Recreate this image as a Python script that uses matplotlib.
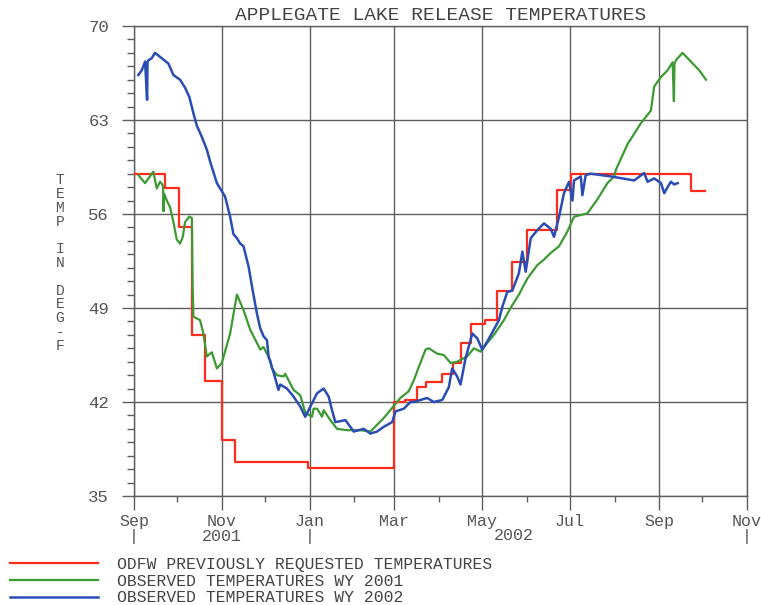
import numpy as np
import matplotlib
matplotlib.use("Agg")
import matplotlib.pyplot as plt
import matplotlib.dates as mdates
from matplotlib.ticker import MultipleLocator

# ---- data (days after 1 September, temperatures in deg F) ----
season_start = "2001-09-01"

red_days = [1, 21.6, 31, 40, 49, 61, 70, 121, 181, 188, 197, 203, 214, 222, 227,
            234, 244, 252, 263, 273, 294, 304, 387, 397]
red_temps = [59.0, 57.9, 55.0, 47.0, 43.6, 39.2, 37.5, 37.1, 42.0, 42.15, 43.1, 43.5,
             44.1, 44.9, 46.4, 47.8, 48.1, 50.3, 52.4, 54.8, 57.8, 59.0, 57.7, 57.7]

green_days = [3.0, 7.7, 13.4, 15.8, 18.1, 19.7, 20.2, 20.5, 21.0, 22.8, 25.1, 27.4,
              29.7, 32.0, 33.9, 35.5, 38.5, 40.2, 40.7, 41.3, 45.9, 48.2, 50.6, 54.1,
              57.6, 61.0, 66.8, 71.5, 76.1, 80.7, 85.4, 87.7, 90.0, 94.7, 95.9, 99.3,
              103.9, 105.1, 110.9, 115.6, 119.0, 123.7, 124.8, 127.2, 130.7, 131.8,
              136.4, 141.1, 148.1, 157.3, 164.3, 168.9, 173.5, 178.2, 185.1, 190.9,
              194.4, 197.9, 202.6, 204.9, 210.7, 215.3, 220.0, 224.6, 231.6, 236.2,
              240.8, 245.5, 250.1, 257.1, 261.7, 267.5, 273.4, 280.3, 284.9, 289.6,
              295.4, 301.2, 305.8, 315.1, 322.1, 329.0, 333.7, 334.9, 343.0, 352.2,
              359.2, 361.5, 366.2, 370.8, 374.3, 375.2, 375.6, 376.6, 381.2, 387.0,
              392.8, 397.5]
green_temps = [58.9, 58.3, 59.15, 57.9, 58.4, 58.2, 58.0, 56.2, 57.5, 57.0, 56.5, 55.4,
               54.1, 53.8, 54.3, 55.4, 55.8, 55.7, 50.8, 48.35, 48.1, 47.1, 45.4, 45.7,
               44.5, 44.9, 47.1, 50.0, 48.85, 47.4, 46.4, 45.9, 46.1, 45.1, 44.5, 44.0,
               43.9, 44.1, 42.9, 42.5, 41.2, 40.9, 41.5, 41.5, 40.9, 41.4,
               40.65, 40.0, 39.9, 39.9, 39.8, 40.3, 40.8, 41.4, 42.3, 42.8,
               43.6, 44.6, 45.9, 46.0, 45.6, 45.5, 44.9, 45.0, 45.4, 46.0,
               45.75, 46.4, 47.0, 48.1, 49.0, 50.0, 51.2, 52.2, 52.6, 53.1,
               53.6, 54.7, 55.8, 56.05, 57.1, 58.3, 58.8, 59.3, 61.2, 62.75,
               63.7, 65.5, 66.2, 66.7, 67.3, 64.4, 67.2, 67.45, 68.0, 67.35,
               66.7, 66.0]

blue_days = [3.0, 5.4, 7.7, 9.1, 9.4, 10.0, 12.3, 14.6, 19.3, 23.9, 27.4, 32.0, 35.5,
             38.5, 41.3, 43.6, 47.1, 50.6, 52.9, 57.6, 63.3, 66.8, 69.1, 71.5, 73.8,
             76.1, 78.4, 79.6, 83.0, 85.4, 87.7, 90.0, 92.4, 93.5, 97.0, 100.4, 101.6,
             106.3, 110.9, 115.6, 119.0, 122.5, 127.2, 131.8, 135.3, 137.6, 139.9,
             146.9, 152.7, 159.6, 164.3, 168.9, 173.5, 179.4, 181.7, 187.5, 192.1,
             194.4, 203.7, 208.3, 214.2, 218.8, 221.1, 224.6, 226.9, 230.4, 235.1,
             238.5, 242.0, 245.5, 250.1, 253.6, 256.0, 259.4, 262.9, 267.5, 269.9,
             272.2, 275.7, 280.3, 284.9, 289.6, 291.9, 295.4, 298.8, 302.3, 304.7,
             305.8, 310.5, 311.6, 313.9, 317.4, 331.3, 347.6, 354.5, 356.9, 361.5,
             366.2, 368.5, 370.8, 373.1, 375.4, 377.8]
blue_temps = [66.35, 66.7, 67.35, 64.5, 67.3, 67.45, 67.6, 68.0, 67.6, 67.2, 66.35, 66.0,
              65.4, 64.7, 63.5, 62.6, 61.75, 60.8, 59.9, 58.3, 57.3, 55.8, 54.5, 54.2,
              53.8, 53.6, 52.6, 52.1, 50.0, 48.6, 47.5, 46.9, 46.6, 45.4, 44.2, 42.9,
              43.3, 43.0, 42.4, 41.65, 40.9, 41.65, 42.65, 43.0, 42.4, 41.4, 40.5,
              40.65, 39.8, 40.0, 39.65, 39.8, 40.15, 40.5, 41.3, 41.5, 42.0,
              42.0, 42.3, 42.0, 42.15, 43.1, 44.5, 43.9, 43.3, 45.25, 47.1,
              46.75, 45.9, 46.5, 47.4, 48.1, 49.1, 50.2, 50.3, 51.6, 53.2,
              51.7, 54.2, 54.8, 55.3, 54.9, 54.3, 55.8, 57.55, 58.4, 57.0,
              58.5, 58.8, 57.4, 58.9, 59.0, 58.8, 58.5, 59.05, 58.4, 58.65,
              58.3, 57.55, 58.0, 58.4, 58.2, 58.3]

tick_dates = ["2001-09-01", "2001-11-01", "2002-01-01", "2002-03-01",
              "2002-05-01", "2002-07-01", "2002-09-01", "2002-11-01"]
tick_labels = ["Sep\n|", "Nov\n2001", "Jan\n|", "Mar", "May", "Jul", "Sep", "Nov\n|"]
minor_dates = ["2001-10-01", "2001-12-01", "2002-02-01", "2002-04-01",
               "2002-06-01", "2002-08-01", "2002-10-01"]
year_label = "2002"
year_label_date = "2002-05-23"

y_ticks = [35, 42, 49, 56, 63, 70]

legend_labels = ["ODFW PREVIOUSLY REQUESTED TEMPERATURES",
                 "OBSERVED TEMPERATURES WY 2001",
                 "OBSERVED TEMPERATURES WY 2002"]
title = "APPLEGATE LAKE RELEASE TEMPERATURES"
ylabel = "T\nE\nM\nP\n\nI\nN\n\nD\nE\nG\n-\nF"

# ---- drawing ----
plt.rcParams["font.family"] = ["Liberation Mono", "DejaVu Sans Mono"]

RED, GREEN, BLUE = "#ff2b1c", "#3d9a33", "#2a4db4"
GRID = "#5e5e5e"
TXT = "#555555"

def to_num(day_list):
    return mdates.datestr2num(season_start) + np.asarray(day_list, dtype=float)

fig = plt.figure(figsize=(7.61, 6.05), dpi=100)
ax = fig.add_axes([134 / 761, 109 / 605, 613 / 761, 470 / 605])

l_red, = ax.plot(to_num(red_days), red_temps, drawstyle="steps-post",
                 color=RED, lw=1.6, zorder=3)
l_green, = ax.plot(to_num(green_days), green_temps, color=GREEN, lw=1.6, zorder=4)
l_blue, = ax.plot(to_num(blue_days), blue_temps, color=BLUE, lw=1.8, zorder=5)

ax.set_xlim(mdates.datestr2num(tick_dates[0]), mdates.datestr2num(tick_dates[-1]))
ax.set_ylim(35, 70)

ax.set_xticks([mdates.datestr2num(d) for d in tick_dates])
ax.set_xticklabels(tick_labels, fontsize=12, color=TXT, linespacing=1.0)
ax.set_xticks([mdates.datestr2num(d) for d in minor_dates], minor=True)
ax.set_yticks(y_ticks)
ax.set_yticklabels([str(v) for v in y_ticks], fontsize=12.5, color=TXT)
ax.yaxis.set_minor_locator(MultipleLocator(1))

ax.tick_params(axis="x", which="major", length=10, width=1, color=GRID, pad=3)
ax.tick_params(axis="x", which="minor", length=4, width=1, color=GRID)
ax.tick_params(axis="y", which="major", length=9, width=1, color=GRID, pad=9)
ax.tick_params(axis="y", which="minor", length=5, width=1, color=GRID)

ax.grid(True, which="major", color=GRID, lw=1.0)
for s in ax.spines.values():
    s.set_color(GRID)
    s.set_linewidth(1.0)

ax.text(mdates.datestr2num(year_label_date), -0.068, year_label,
        transform=ax.get_xaxis_transform(), ha="center", va="top",
        fontsize=12, color=TXT)

ax.set_title(title, fontsize=14, color="#444444", pad=4)

fig.text(60 / 761, 1 - 263 / 605, ylabel, ha="center", va="center",
         fontsize=10.5, color=TXT, linespacing=0.98, multialignment="center")

fig.legend([l_red, l_green, l_blue], legend_labels, loc="upper left",
           bbox_to_anchor=(10 / 761, 1 - 557 / 605), frameon=False,
           fontsize=11.8, handlelength=5.35, handletextpad=1.15,
           labelspacing=0.1, borderpad=0, borderaxespad=0,
           labelcolor="#444444")

fig.savefig("out.png", dpi=100)
